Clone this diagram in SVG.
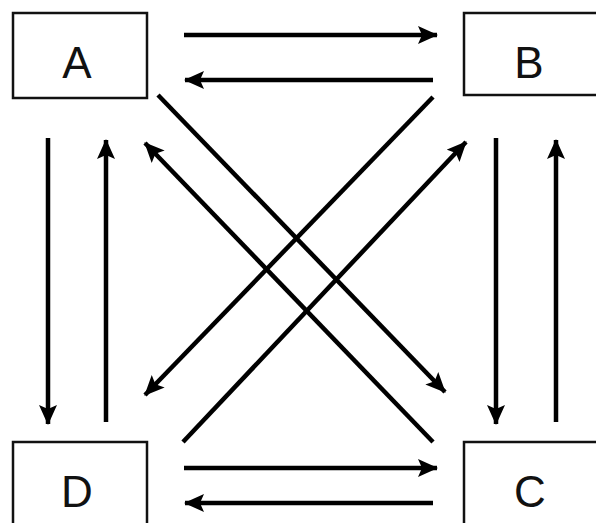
<svg xmlns="http://www.w3.org/2000/svg" width="596" height="523" viewBox="0 0 596 523">
<style>
.box{fill:#fff;stroke:#111;stroke-width:2.5}
.lbl{font-family:"Liberation Sans",Arial,sans-serif;font-size:44px;fill:#111;text-anchor:middle}
.c{stroke:#000;stroke-width:4.5;fill:none;marker-end:url(#ah)}
</style>
<defs>
<marker id="ah" markerUnits="userSpaceOnUse" markerWidth="22" markerHeight="20" refX="19" refY="9" orient="auto">
<path d="M0,0 L20,9 L0,18 L4,9 z" fill="#000"/>
</marker>
</defs>
<rect width="596" height="523" fill="#fff"/>
<g id="A"><rect class="box" x="13" y="13" width="134" height="85"/><text class="lbl" x="77" y="78">A</text></g>
<g id="B"><rect class="box" x="464" y="13" width="140" height="82"/><text class="lbl" x="529" y="78">B</text></g>
<g id="D"><rect class="box" x="13" y="442" width="134" height="100"/><text class="lbl" x="77" y="507">D</text></g>
<g id="C"><rect class="box" x="464" y="442" width="140" height="100"/><text class="lbl" x="530" y="507">C</text></g>
<g id="connectors">
<line class="c" x1="184" y1="35" x2="437" y2="35"/>
<line class="c" x1="433" y1="80" x2="185" y2="80"/>
<line class="c" x1="184" y1="468" x2="437" y2="468"/>
<line class="c" x1="433" y1="503" x2="185" y2="503"/>
<line class="c" x1="48" y1="138" x2="48" y2="424"/>
<line class="c" x1="106" y1="422" x2="106" y2="140"/>
<line class="c" x1="496" y1="138" x2="496" y2="424"/>
<line class="c" x1="556" y1="422" x2="556" y2="140"/>
<line class="c" x1="158" y1="95" x2="445" y2="392"/>
<line class="c" x1="433" y1="442" x2="145" y2="143"/>
<line class="c" x1="433" y1="97" x2="145" y2="395"/>
<line class="c" x1="183" y1="442" x2="466" y2="142"/>
</g>
</svg>
